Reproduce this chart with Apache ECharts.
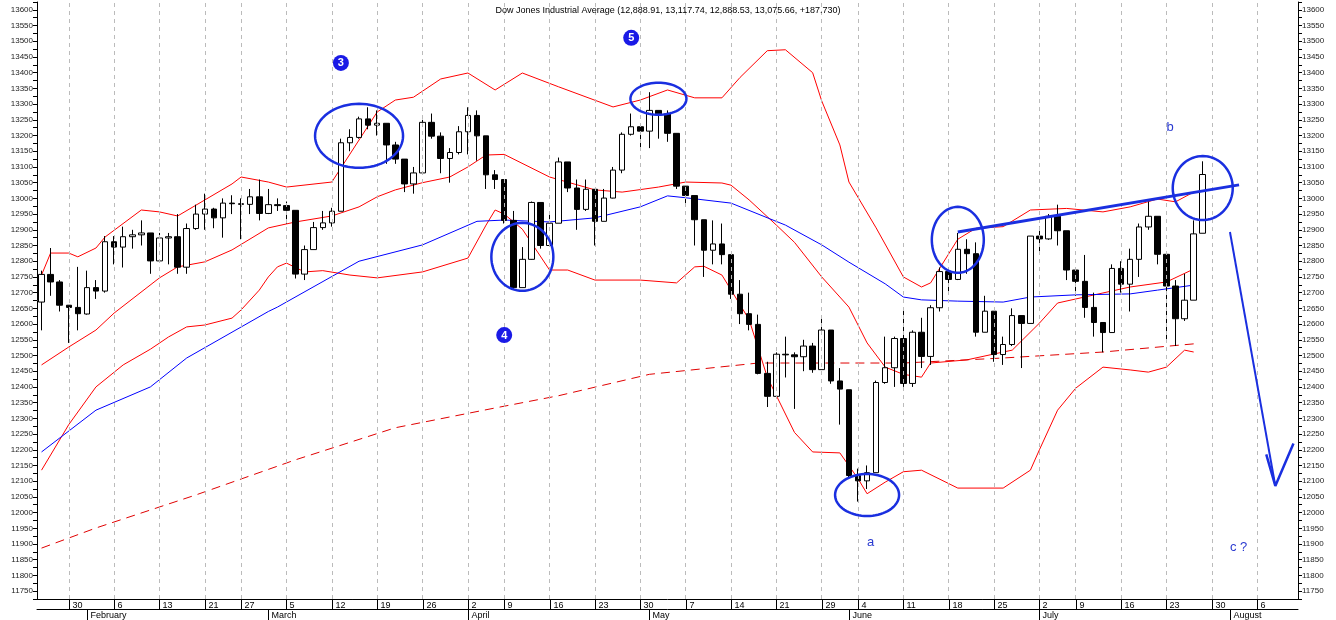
<!DOCTYPE html>
<html><head><meta charset="utf-8">
<script src="https://cdn.jsdelivr.net/npm/echarts@6/dist/echarts.min.js"></script>
<style>html,body{margin:0;padding:0;background:#fff}#c{width:1336px;height:620px}</style>
</head><body><div id="c"></div>
<script>
const dates = ['2012-01-25','2012-01-26','2012-01-27','2012-01-30','2012-01-31',
'2012-02-01','2012-02-02','2012-02-03','2012-02-06','2012-02-07','2012-02-08','2012-02-09','2012-02-10','2012-02-13','2012-02-14','2012-02-15','2012-02-16','2012-02-17','2012-02-21','2012-02-22','2012-02-23','2012-02-24','2012-02-27','2012-02-28','2012-02-29',
'2012-03-01','2012-03-02','2012-03-05','2012-03-06','2012-03-07','2012-03-08','2012-03-09','2012-03-12','2012-03-13','2012-03-14','2012-03-15','2012-03-16','2012-03-19','2012-03-20','2012-03-21','2012-03-22','2012-03-23','2012-03-26','2012-03-27','2012-03-28','2012-03-29','2012-03-30',
'2012-04-02','2012-04-03','2012-04-04','2012-04-05','2012-04-09','2012-04-10','2012-04-11','2012-04-12','2012-04-13','2012-04-16','2012-04-17','2012-04-18','2012-04-19','2012-04-20','2012-04-23','2012-04-24','2012-04-25','2012-04-26','2012-04-27','2012-04-30',
'2012-05-01','2012-05-02','2012-05-03','2012-05-04','2012-05-07','2012-05-08','2012-05-09','2012-05-10','2012-05-11','2012-05-14','2012-05-15','2012-05-16','2012-05-17','2012-05-18','2012-05-21','2012-05-22','2012-05-23','2012-05-24','2012-05-25','2012-05-29','2012-05-30','2012-05-31',
'2012-06-01','2012-06-04','2012-06-05','2012-06-06','2012-06-07','2012-06-08','2012-06-11','2012-06-12','2012-06-13','2012-06-14','2012-06-15','2012-06-18','2012-06-19','2012-06-20','2012-06-21','2012-06-22','2012-06-25','2012-06-26','2012-06-27','2012-06-28','2012-06-29',
'2012-07-02','2012-07-03','2012-07-05','2012-07-06','2012-07-09','2012-07-10','2012-07-11','2012-07-12','2012-07-13','2012-07-16','2012-07-17','2012-07-18','2012-07-19','2012-07-20','2012-07-23','2012-07-24','2012-07-25','2012-07-26','2012-07-27',
'2012-07-30','2012-07-31','2012-08-01','2012-08-02','2012-08-03','2012-08-06','2012-08-07','2012-08-08','2012-08-09','2012-08-10'];
const opens = [12670,12758,12734,12660,12653,
12632,12716,12705,12862,12845,12878,12884,12890,12801,12874,12878,12781,12904,12950,12966,12938,12985,12983,12981,13005,
12952,12980,12977,12962,12759,12837,12907,12922,12959,13177,13194,13253,13233,13239,13170,13125,13046,13081,13242,13198,13127,13146,
13212,13264,13199,13075,13060,12930,12716,12806,12987,12850,12921,13116,13033,12965,13029,12927,13001,13090,13204,13228,
13214,13280,13269,13207,13039,13009,12932,12835,12855,12821,12695,12633,12599,12443,12370,12504,12502,12496,12530,12455,12581,12419,
12391,12118,12101,12127,12414,12461,12554,12411,12574,12497,12652,12767,12742,12838,12824,12574,12641,12503,12535,12627,12602,
12880,12871,12943,12897,12772,12736,12653,12605,12573,12777,12727,12806,12909,12943,12822,12721,12617,12676,12889];
const closes = [12758,12734,12660,12653,12633,
12716,12705,12862,12845,12878,12884,12890,12801,12874,12878,12781,12904,12950,12966,12938,12985,12983,12981,13005,12952,
12980,12977,12962,12759,12837,12907,12922,12959,13177,13194,13253,13233,13239,13170,13125,13046,13081,13242,13198,13127,13146,13212,
13264,13199,13075,13060,12930,12716,12806,12987,12850,12921,13116,13033,12965,13029,12927,13001,13090,13204,13228,13214,
13280,13269,13207,13039,13009,12932,12835,12855,12821,12695,12633,12599,12443,12370,12504,12502,12496,12530,12455,12581,12419,12393,
12118,12101,12127,12414,12461,12554,12411,12574,12497,12652,12767,12742,12838,12824,12574,12641,12503,12535,12627,12602,12880,
12871,12943,12897,12772,12736,12653,12605,12573,12777,12727,12806,12909,12943,12822,12721,12617,12676,12887,13076];
const lows = [12580,12690,12640,12540,12580,
12630,12680,12700,12790,12780,12840,12850,12760,12800,12790,12760,12760,12900,12900,12905,12875,12950,12870,12950,12930,
12950,12960,12920,12745,12740,12837,12900,12910,12959,13150,13190,13220,13200,13110,13110,13020,13015,13081,13190,13080,13050,13140,
13140,13120,13030,13030,12920,12710,12716,12805,12840,12850,12921,13020,12900,12960,12850,12927,13000,13080,13200,13160,
13160,13190,13180,13030,12980,12850,12750,12790,12790,12680,12600,12580,12440,12336,12370,12430,12330,12450,12445,12455,12410,12280,
12110,12035,12075,12127,12410,12400,12400,12400,12460,12470,12640,12700,12740,12760,12560,12574,12480,12470,12530,12460,12602,
12820,12868,12850,12740,12690,12620,12560,12510,12573,12700,12640,12750,12900,12790,12550,12530,12610,12676,12889];
const highs = [12770,12842,12740,12660,12782,
12770,12740,12880,12880,12910,12900,12930,12890,12890,12890,12950,12920,12980,13015,12970,13000,13010,13000,13030,13060,
13030,13000,12990,12962,12850,12925,12960,12970,13190,13220,13260,13290,13280,13239,13180,13125,13100,13250,13270,13210,13160,13230,
13290,13280,13199,13090,13060,12960,12845,12990,12987,12950,13130,13116,13060,13060,13029,13030,13100,13210,13270,13230,
13338,13280,13280,13207,13039,13009,12932,12930,12920,12821,12740,12700,12630,12480,12510,12560,12510,12550,12540,12620,12581,12460,
12391,12140,12150,12420,12560,12560,12650,12580,12620,12660,12780,12780,12890,12870,12860,12690,12641,12560,12650,12627,12880,
12910,12950,12980,12897,12780,12820,12700,12605,12790,12800,12840,12920,12990,12943,12822,12740,12760,12930,13118];
// indicator lines: [category index, value]
const bbUpper = [[0,12756],[1,12826],[3,12826],[4,12814],[6,12842],[7,12877],[11,12963],[13,12957],[15,12944],[18,12995],[21,13046],[22,13068],[25,13052],[27,13036],[32,13052],[37,13275],[39,13313],[41,13322],[44,13380],[47,13399],[50,13345],[53,13399],[57,13355],[63,13291],[66,13313],[69,13345],[72,13320],[75,13320],[77,13385],[80,13470],[82,13473],[85,13400],[86,13310],[88,13170],[89,13052],[92,12906],[95,12750],[97,12718],[98,12731],[101,12870],[103,12905],[106,12910],[109,12963],[113,12968],[117,12957],[120,12973],[123,12998],[125,12989],[127,13020]];
const bbMiddle = [[0,12470],[3,12527],[6,12581],[8,12635],[13,12747],[15,12782],[18,12798],[21,12836],[25,12906],[28,12925],[32,12944],[35,12973],[37,13005],[39,13027],[42,13050],[45,13068],[47,13100],[49,13138],[51,13140],[56,13068],[61,13027],[64,13020],[68,13036],[71,13052],[75,13049],[76,13042],[78,12995],[81,12915],[83,12860],[86,12750],[89,12654],[91,12540],[93,12463],[95,12440],[97,12431],[98,12476],[102,12486],[106,12511],[107,12517],[110,12603],[112,12667],[117,12699],[120,12718],[124,12734],[127,12775]];
const bbLower = [[0,12135],[3,12280],[6,12400],[9,12470],[12,12520],[14,12559],[16,12591],[18,12597],[21,12619],[22,12645],[24,12708],[25,12750],[26,12782],[27,12794],[29,12766],[31,12770],[34,12756],[37,12747],[42,12766],[47,12810],[49,12915],[50,12963],[51,12950],[53,12902],[56,12772],[58,12772],[61,12740],[66,12740],[70,12731],[72,12782],[73,12784],[75,12756],[78,12614],[80,12431],[83,12255],[85,12193],[88,12190],[90,12108],[91,12060],[93,12097],[95,12130],[97,12135],[101,12078],[106,12078],[109,12135],[110,12200],[112,12326],[114,12396],[117,12463],[120,12454],[122,12447],[124,12463],[126,12517],[127,12511]];
const sma50 = [[0,12193],[6,12326],[12,12400],[16,12492],[25,12640],[26,12654],[35,12800],[42,12852],[48,12927],[51,12931],[56,12925],[61,12938],[66,12973],[69,13008],[71,13002],[76,12985],[82,12915],[86,12852],[89,12797],[93,12728],[95,12686],[97,12677],[101,12673],[106,12670],[109,12686],[114,12693],[120,12696],[123,12708],[127,12724]];
const sma200 = [[0,11887],[6,11951],[17,12056],[28,12168],[39,12270],[50,12333],[57,12372],[67,12440],[79,12476],[95,12476],[106,12492],[117,12511],[127,12537]];
const trendLine = [[101,12893],[132,13043]];
const arrowShaft = [[131,12893],[136.3,12085]];
const arrowHead = [[134.5,12185],[136.3,12085],[138,12220]];
const ellipses = [[35,13199],[52.5,12814],[68,13317],[90.5,12056],[101,12868],[127.5,13033]];
const badges = [[33,13431,'3'],[65,13511,'5'],[51,12565,'4']];
const notes = [[91,11905,'a'],[124,13227,'b'],[131,11889,'c ?']];
const monthNames = ['January','February','March','April','May','June','July','August'];
const titleText = 'Dow Jones Industrial Average (12,888.91, 13,117.74, 12,888.53, 13,075.66, +187.730)';

const ellipseR = [[44,32],[31,34],[28,16],[32,21],[26,33],[30,32]];
const weekStart = [], monthStart = [];
for (let i=1;i<dates.length;i++){
  const d = new Date(dates[i]+'T00:00:00Z'), p = new Date(dates[i-1]+'T00:00:00Z');
  if (d.getUTCDay() < p.getUTCDay() || (d-p)>4*864e5) weekStart.push(i);
  if (d.getUTCMonth()!==p.getUTCMonth()) monthStart.push(i);
}
const candles = opens.map((o,i)=>[o,closes[i],lows[i],highs[i]]);
const font = 'Arial, "Liberation Sans", sans-serif';
const chart = echarts.init(document.getElementById('c'));
const lineS = (data,color,extra)=>Object.assign({type:'line',data,symbol:'none',connectNulls:true,silent:true,
  lineStyle:{color,width:1},z:3},extra||{});
const yAx = (pos)=>({type:'value',position:pos,min:11725,max:13625,interval:25,
  axisLine:{show:true,lineStyle:{color:'#000'}},axisTick:{show:true,length:4,lineStyle:{color:'#000'}},
  splitLine:{show:false},
  axisLabel:{fontSize:8,fontFamily:font,color:'#222',margin:4,formatter:v=>(v%50===0 && v<13625)?String(v):''}});
const labelSeries = (idxs, textOf, dy) => ({type:'custom',data:idxs.map(i=>[i,11725]),clip:false,silent:true,z:8,
  renderItem:(p,api)=>{const i=idxs[p.dataIndex]; const c=api.coord([i,11725]);
    const x=Math.round(c[0])+0.5, y=c[1]+dy;
    return {type:'group',children:[
      {type:'line',shape:{x1:x,y1:y,x2:x,y2:y+10},style:{stroke:'#000',lineWidth:1}},
      {type:'text',x:x+3,y:y+1,style:{text:textOf(dates[i]),fill:'#000',font:'9px '+font,align:'left',verticalAlign:'top'}}]};}});
chart.setOption({
  animation:false,
  title:{text:titleText,left:'center',top:1,textStyle:{fontSize:9,fontWeight:'normal',fontFamily:font,color:'#000'}},
  grid:{left:37,right:38,top:2,bottom:21},
  xAxis:[{type:'category',data:dates,boundaryGap:true,
    axisLine:{lineStyle:{color:'#000'}},axisTick:{show:false},
    axisLabel:{show:false},splitLine:{show:false}},
   {type:'category',data:dates,boundaryGap:true,position:'bottom',offset:10,
    axisLine:{lineStyle:{color:'#000'}},axisTick:{show:false},
    axisLabel:{show:false}}],
  yAxis:[yAx('left'),yAx('right')],
  series:[
    {type:'candlestick',data:candles,barWidth:6,z:4,
      itemStyle:{color:'#fff',color0:'#000',borderColor:'#000',borderColor0:'#000',borderWidth:1},
      markLine:{silent:true,symbol:'none',label:{show:false},
        lineStyle:{color:'#bbb',type:[4,4],width:1},
        data:weekStart.map(i=>({xAxis:i}))}},
    lineS(bbUpper,'#ff0000'),
    lineS(bbMiddle,'#ff0000'),
    lineS(bbLower,'#ff0000'),
    lineS(sma50,'#0000ff'),
    lineS(sma200,'#e00000',{lineStyle:{color:'#e00000',width:1,type:[9,6]}}),
    lineS(trendLine,'#1a2fe0',{lineStyle:{color:'#1a2fe0',width:3},z:6}),
    lineS(arrowShaft,'#1a2fe0',{lineStyle:{color:'#1a2fe0',width:2},z:6}),
    lineS(arrowHead,'#1a2fe0',{lineStyle:{color:'#1a2fe0',width:2.5},z:6}),
    {type:'custom',data:ellipses,z:7,silent:true,renderItem:(p,api)=>{
      const c=api.coord([api.value(0),api.value(1)]), r=ellipseR[p.dataIndex], pts=[];
      for(let k=0;k<72;k++){const a=k/72*Math.PI*2;pts.push([c[0]+r[0]*Math.cos(a),c[1]+r[1]*Math.sin(a)]);}
      return {type:'polygon',shape:{points:pts},style:{fill:null,stroke:'#1a2fe0',lineWidth:2.5}};}},
    {type:'custom',data:badges,z:7,silent:true,renderItem:(p,api)=>{
      const c=api.coord([api.value(0),api.value(1)]);
      return {type:'group',children:[
        {type:'circle',shape:{cx:c[0],cy:c[1],r:8},style:{fill:'#1a1ae6'}},
        {type:'text',x:c[0],y:c[1]+0.5,style:{text:badges[p.dataIndex][2],fill:'#fff',font:'bold 11px '+font,align:'center',verticalAlign:'middle'}}]};}},
    {type:'custom',data:notes,z:7,silent:true,renderItem:(p,api)=>{
      const c=api.coord([api.value(0),api.value(1)]);
      return {type:'text',x:c[0],y:c[1],style:{text:notes[p.dataIndex][2],fill:'#2a3ad0',font:'13px '+font,align:'left',verticalAlign:'middle'}};}},
    labelSeries(weekStart, d=>String(+d.slice(8)), 1),
    labelSeries(monthStart, d=>monthNames[+d.slice(5,7)-1], 11)
  ]
});
</script></body></html>
